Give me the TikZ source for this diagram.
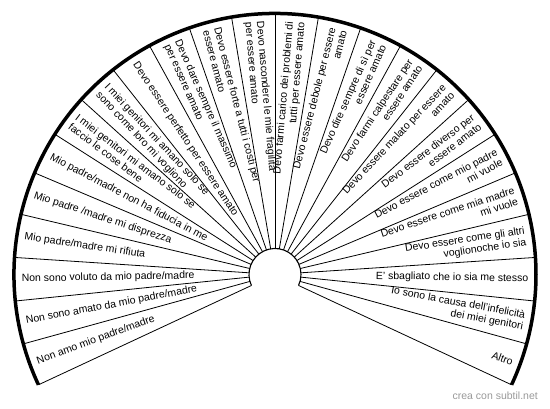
\documentclass[tikz,border=0pt]{standalone}
\usepackage{fontspec}
\setmainfont{Liberation Sans}
\begin{document}
\begin{tikzpicture}[
  x=1pt, y=1pt,
  spoke/.style={draw=black, line width=0.8pt},
  rim/.style={draw=black, line width=3.5pt},
  hub/.style={draw=black, line width=1.1pt},
  belief/.style={inner sep=0pt, font=\fontsize{10.5}{11.5}\selectfont},
  credit/.style={inner sep=0pt, text=black!40, font=\fontsize{10.5}{12}\selectfont},
]
\useasboundingbox (0,0) rectangle (550,408);
\begin{scope}[shift={(275,133.5)}]
% spokes between the hub and the rim
\foreach \k in {0,...,24}
  \draw[spoke] ({205-\k*230/24}:26) -- ({205-\k*230/24}:261);
\draw[rim] (205:261) arc[start angle=205, end angle=-25, radius=261];
\draw[hub] (205:26) arc[start angle=205, end angle=-25, radius=26];
% one text per sector, read from the rim inwards on the left
\foreach \txt [count=\k] in {
  {Non amo mio padre/madre},
  {Non sono amato da mio padre/madre},
  {Non sono voluto da mio padre/madre},
  {Mio padre/madre mi rifiuta},
  {Mio padre /madre mi disprezza},
  {Mio padre/madre non ha fiducia in me},
  {I miei genitori mi amano solo se\\faccio le cose bene},
  {I miei genitori mi amano solo se\\sono come loro mi vogliono},
  {Devo essere perfetto per essere amato},
  {Devo dare sempre il massimo\\per essere amato},
  {Devo essere forte a tutti i costi per\\essere amato},
  {Devo nascondere le mie fragilità\\per essere amato},
  {Devo farmi carico dei problemi di\\tutti per essere amato},
  {Devo essere debole per essere\\amato},
  {Devo dire sempre di sì per\\essere amato},
  {Devo farmi calpestare per\\essere amato},
  {Devo essere malato per essere\\amato},
  {Devo essere diverso per\\essere amato},
  {Devo essere come mio padre\\mi vuole},
  {Devo essere come mia madre\\mi vuole},
  {Devo essere come gli altri\\voglionoche io sia},
  {E' sbagliato che io sia me stesso},
  {Io sono la causa dell'infelicità\\dei miei genitori},
  {Altro}} {
  \pgfmathsetmacro\mid{205-(\k-0.5)*230/24}
  \ifdim\mid pt>90pt
    \node[belief, anchor=west, align=left, rotate=\mid-180] (s\k) at (\mid:253.5) {\txt};
  \else
    \node[belief, anchor=east, align=right, rotate=\mid] (s\k) at (\mid:253.5) {\txt};
  \fi
}
\end{scope}
\node[credit, anchor=base east] (brand) at (538,8.5) {crea con subtil.net};
\end{tikzpicture}
\end{document}
